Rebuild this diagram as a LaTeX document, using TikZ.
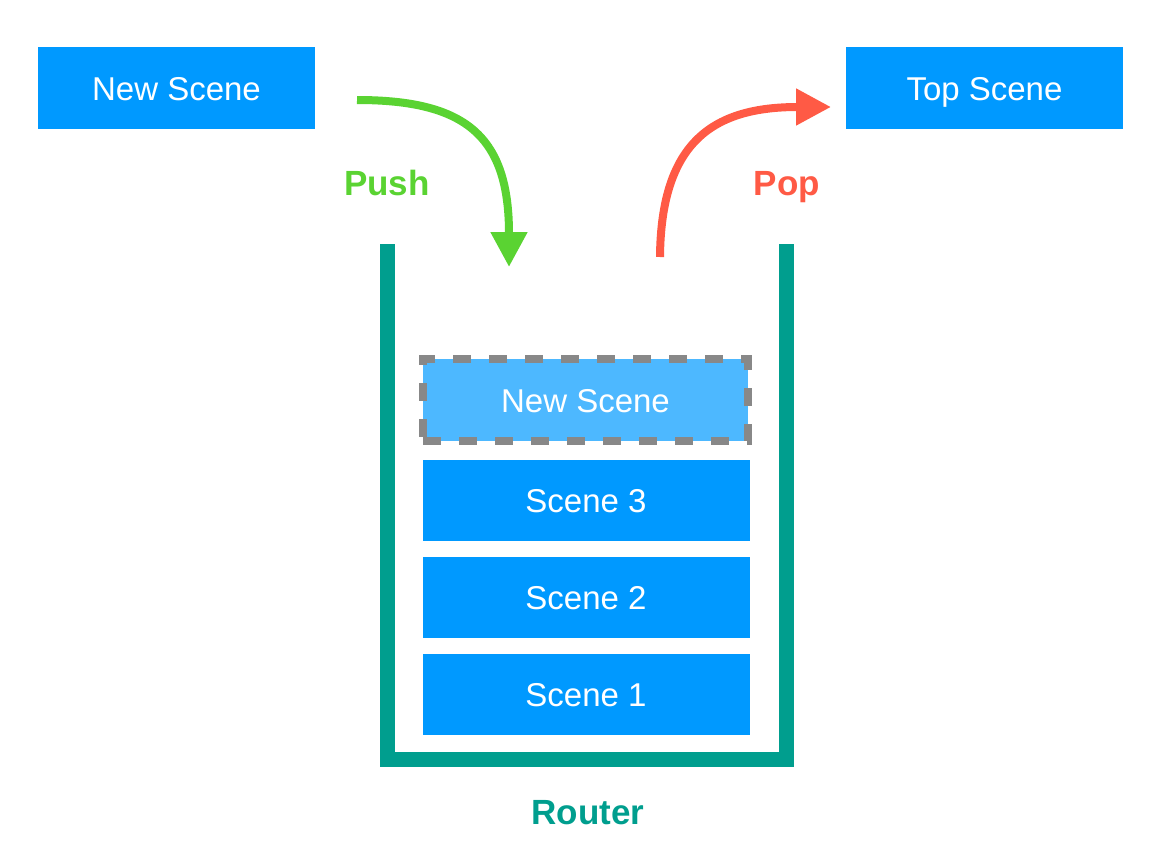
\documentclass[tikz,border=0pt]{standalone}
\usepackage{fontspec}
\setmainfont{Liberation Sans}
\usetikzlibrary{arrows.meta}
\definecolor{sceneblue}{HTML}{0099FF}
\definecolor{newblue}{HTML}{4DB8FF}
\definecolor{routerteal}{HTML}{009E8E}
\definecolor{pushgreen}{HTML}{5AD332}
\definecolor{popred}{HTML}{FF5A45}
\definecolor{dashgray}{HTML}{888888}

\begin{document}
\begin{tikzpicture}
    [x=1pt, y=-1pt,
     scene/.style={fill=sceneblue, text=white, inner sep=0pt,
       minimum width=327pt, minimum height=81pt, text height=24pt, text depth=0pt,
       font=\fontsize{33}{40}\selectfont},
     outside/.style={scene, minimum width=277pt, minimum height=82pt},
     optext/.style={anchor=base, font=\bfseries\fontsize{35}{42}\selectfont},
     flow/.style={line width=8pt, -{Triangle[length=35pt,width=35pt]}}]
    \def \gap {97}
    \useasboundingbox (0,0) rectangle (1169,862);

    \node[outside] (new) at (176.5,88) {New Scene};
    \node[outside] (top) at (984.5,88) {Top Scene};

    % the router stack
    \draw[routerteal, line width=15pt] (387.5,244) -- (387.5,759.5) -- (786.5,759.5) -- (786.5,244);
    \node[optext, routerteal] (router) at (588,824) {Router};

    \foreach \s in {1,2,3}
    {
      \node[scene] (scene\s) at (586,{694 - \gap*(\s - 1)}) {Scene \s};
    }
    \node[scene, fill=newblue, minimum width=325pt, minimum height=82pt,
      draw=dashgray, line width=8pt, dash pattern=on 18pt off 18pt] (pushed) at (585.5,400) {New Scene};

    \coordinate (push start) at (357,100);
    \coordinate (push end) at (509,267);
    \coordinate (pop start) at (660,257);
    \coordinate (pop end) at (831,107);

    \draw[flow, pushgreen] (push start) .. controls (467,100) and (509,137) .. (push end);
    \draw[flow, popred] (pop start) .. controls (661,140) and (715,107) .. (pop end);
    \node[optext, pushgreen] (push) at (387,195) {Push};
    \node[optext, popred] (pop) at (787,195) {Pop};
  \end{tikzpicture}
\end{document}
